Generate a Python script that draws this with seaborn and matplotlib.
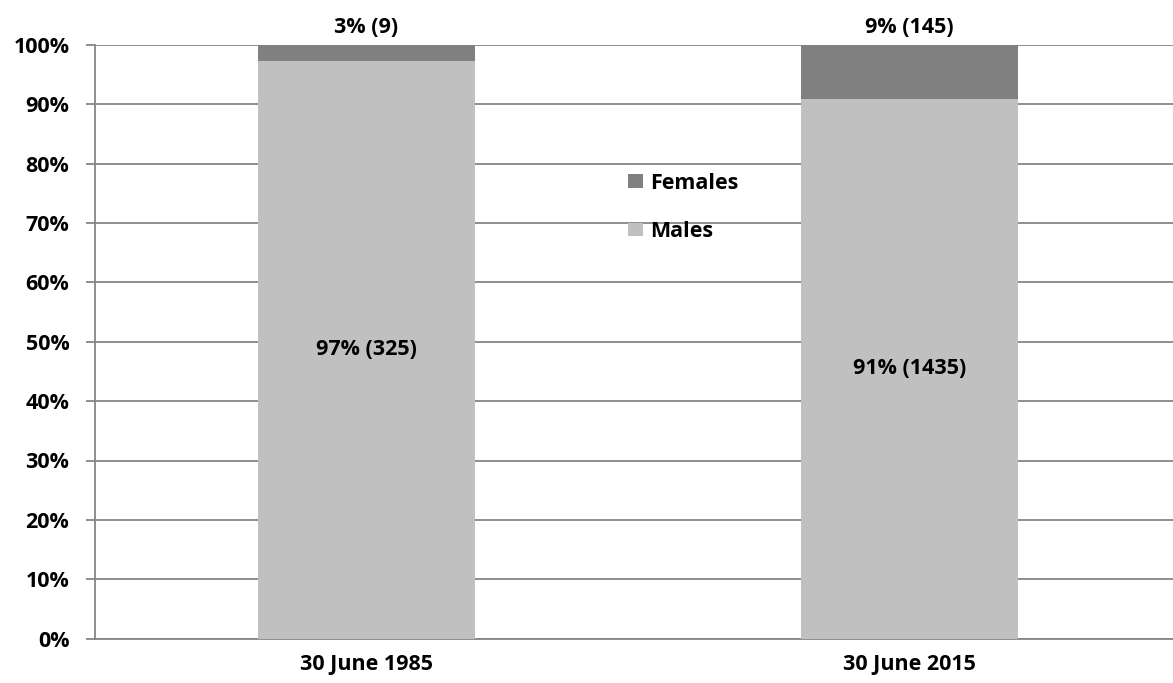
import matplotlib.pyplot as plt
import numpy as np
import pandas as pd
import seaborn as sns

# --- data ---
dates = ["30 June 1985", "30 June 2015"]
males = [325, 1435]
females = [9, 145]
y_ticks = [0, 10, 20, 30, 40, 50, 60, 70, 80, 90, 100]

totals = np.array(males) + np.array(females)
male_pct = 100 * np.array(males) / totals
female_pct = 100 * np.array(females) / totals

df = pd.DataFrame({"date": dates, "males": male_pct, "total": male_pct + female_pct})

sns.set_style("white")
plt.rcParams["font.family"] = ["Open Sans", "DejaVu Sans"]
plt.rcParams["font.weight"] = "bold"
plt.rcParams["text.color"] = "black"
plt.rcParams["xtick.color"] = "black"
plt.rcParams["ytick.color"] = "black"
FS = 15.5

grey_line = "#868686"
W, H = 1173, 683
fig = plt.figure(figsize=(W / 100, H / 100), dpi=100)
ax = fig.add_axes([95 / W, 1 - 638.7 / H, (1181 - 95) / W, (638.7 - 44.7) / H])

# stacked bars: full bar in female colour, males drawn over it
sns.barplot(data=df, x="date", y="total", color="#808080", width=0.4,
            saturation=1, linewidth=0, ax=ax, label="Females", zorder=3)
sns.barplot(data=df, x="date", y="males", color="#c0c0c0", width=0.4,
            saturation=1, linewidth=0, ax=ax, label="Males", zorder=3)

# data labels
for i in range(len(dates)):
    ax.annotate(f"{female_pct[i]:.0f}% ({females[i]})", xy=(i, 100), xytext=(0, 12.5),
                textcoords="offset points", ha="center", va="center", color="black",
                fontsize=FS, fontweight="bold", annotation_clip=False)
    ax.text(i, male_pct[i] / 2, f"{male_pct[i]:.0f}% ({males[i]})", color="black",
            ha="center", va="center", fontsize=FS, fontweight="bold", zorder=4)

# axes formatting
ax.set_ylim(0, 100)
ax.set_xlim(-0.5, len(dates) - 0.5)
ax.set_yticks(y_ticks)
ax.set_yticklabels([f"{t}%" for t in y_ticks])
ax.yaxis.grid(True, color=grey_line, linewidth=1.3, zorder=0)
ax.set_axisbelow(True)
ax.set_xlabel("")
ax.set_ylabel("")

ax.set_xticks(np.arange(-0.5, len(dates), 1.0), minor=True)
ax.tick_params(axis="x", which="major", length=0, pad=11, labelsize=FS, labelcolor="black")
ax.tick_params(axis="x", which="minor", length=6, width=1.3, color=grey_line, direction="out")
ax.tick_params(axis="y", length=6.5, width=1.3, color=grey_line, direction="out",
               pad=12, labelsize=FS, labelcolor="black", left=True)

for side in ["top", "right"]:
    ax.spines[side].set_visible(False)
for side in ["left", "bottom"]:
    ax.spines[side].set_color(grey_line)
    ax.spines[side].set_linewidth(1.3)

for lbl in ax.get_xticklabels() + ax.get_yticklabels():
    lbl.set_fontweight("bold")

ax.legend(loc="center left", bbox_to_anchor=(628 / W, 1 - 207.5 / H),
          bbox_transform=fig.transFigure, frameon=False, borderpad=0,
          borderaxespad=0, handlelength=0.68, handleheight=0.6, handletextpad=0.35,
          labelspacing=1.27, labelcolor="black", prop={"size": FS, "weight": "bold"})

plt.savefig("out.png", dpi=100)
plt.close()
